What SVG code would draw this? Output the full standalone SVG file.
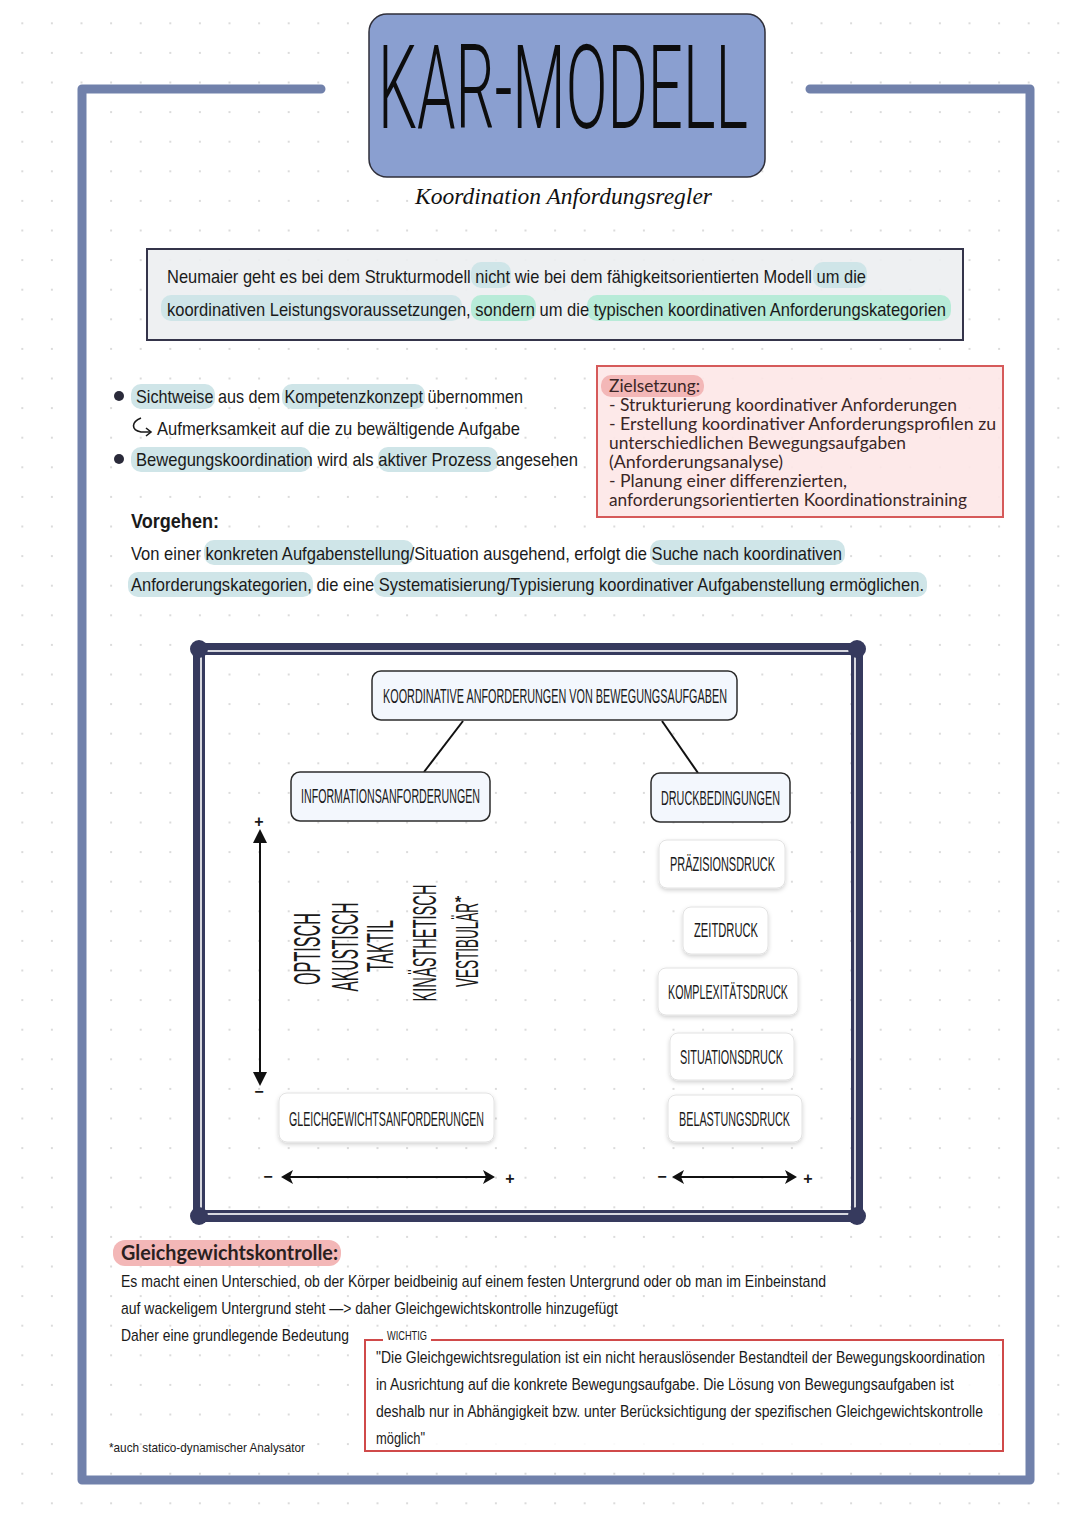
<svg xmlns="http://www.w3.org/2000/svg" width="1080" height="1525" viewBox="0 0 1080 1525">
<defs>
<pattern id="dots" patternUnits="userSpaceOnUse" x="7.5" y="8.5" width="29.6" height="29.6">
<circle cx="14.8" cy="14.8" r="1" fill="#cfcfcf"/>
</pattern>
<filter id="sh" x="-10%" y="-20%" width="120%" height="150%">
<feDropShadow dx="0" dy="2" stdDeviation="2" flood-color="#000" flood-opacity="0.18"/>
</filter>
<marker id="ah" viewBox="0 0 12 14" refX="10" refY="7" markerWidth="12" markerHeight="14" markerUnits="userSpaceOnUse" orient="auto-start-reverse">
<path d="M0,0 L12,7 L0,14 L3,7 z" fill="#111"/>
</marker>
<marker id="av" viewBox="0 0 14 14" refX="10" refY="7" markerWidth="14" markerHeight="14" markerUnits="userSpaceOnUse" orient="auto-start-reverse">
<path d="M0,0 L14,7 L0,14 z" fill="#111"/>
</marker>
</defs>
<style>
.hw{font-family:'Liberation Sans Narrow','Liberation Sans',sans-serif;fill:#1a1a1a;}
.cap{font-family:'Liberation Sans Narrow','Liberation Sans',sans-serif;fill:#1a1a1a;}
.zs{font-family:Lato,'Noto Sans',sans-serif;fill:#3a2626;font-size:16.5px;}
.hlb{fill:#cfe5e8;}
.hlg{fill:#b8ebd8;}
.hlp{fill:#f3b7b7;}
.node{fill:#f3f7fd;stroke:#2c2c2c;stroke-width:1.5;}
.wnode{fill:#ffffff;stroke:#e2e2e2;stroke-width:1;filter:url(#sh);}
.frame{fill:none;stroke:#7181ab;stroke-width:9;stroke-linecap:round;stroke-linejoin:round;}
</style>
<rect width="1080" height="1525" fill="#ffffff"/>
<rect width="1080" height="1525" fill="url(#dots)"/>

<g id="frame">
<path class="frame" d="M321,89 L82,89 L82,1480 L1030,1480 L1030,89 L810,89"/>
</g>

<g id="title">
<rect x="369" y="14" width="396" height="163" rx="18" fill="#8a9fd0" stroke="#2f2f3a" stroke-width="1.5"/>
<text x="378" y="128" font-family="Roboto,'Liberation Sans',sans-serif" font-weight="300" font-size="116" textLength="370" lengthAdjust="spacingAndGlyphs" fill="#0d0d0d">KAR-MODELL</text>
<text x="415" y="204" font-family="'Liberation Serif',serif" font-style="italic" font-size="24" textLength="297" lengthAdjust="spacingAndGlyphs" fill="#111">Koordination Anfordungsregler</text>
</g>

<g id="intro">
<rect x="147" y="249" width="816" height="91" fill="#eceef1" fill-opacity="0.9" stroke="#34344a" stroke-width="2"/>
<rect class="hlb" x="471" y="262" width="40" height="26" rx="10"/>
<rect class="hlb" x="813" y="262" width="54" height="26" rx="10"/>
<rect class="hlb" x="161" y="295" width="301" height="26" rx="10"/>
<rect class="hlg" x="471" y="295" width="65" height="26" rx="10"/>
<rect class="hlg" x="587" y="295" width="364" height="26" rx="10"/>
<text class="hw" x="167" y="283" font-size="19" textLength="699" lengthAdjust="spacingAndGlyphs">Neumaier geht es bei dem Strukturmodell nicht wie bei dem fähigkeitsorientierten Modell um die</text>
<text class="hw" x="167" y="316" font-size="19" textLength="779" lengthAdjust="spacingAndGlyphs">koordinativen Leistungsvoraussetzungen, sondern um die typischen koordinativen Anforderungskategorien</text>
</g>

<g id="bullets">
<rect class="hlb" x="131" y="384" width="84" height="25" rx="10"/>
<rect class="hlb" x="282" y="384" width="143" height="25" rx="10"/>
<rect class="hlb" x="131" y="447" width="180" height="25" rx="10"/>
<rect class="hlb" x="378" y="447" width="120" height="25" rx="10"/>
<circle cx="119" cy="396" r="5" fill="#2a2a3a"/>
<circle cx="119" cy="459" r="5" fill="#2a2a3a"/>
<text class="hw" x="136" y="403" font-size="19" textLength="387" lengthAdjust="spacingAndGlyphs">Sichtweise aus dem Kompetenzkonzept übernommen</text>
<path d="M141,418 C131,422 131,430 141,432 L150,432" fill="none" stroke="#1a1a1a" stroke-width="1.6"/>
<path d="M146,428 L151,432 L146,436" fill="none" stroke="#1a1a1a" stroke-width="1.6"/>
<text class="hw" x="157" y="435" font-size="19" textLength="363" lengthAdjust="spacingAndGlyphs">Aufmerksamkeit auf die zu bewältigende Aufgabe</text>
<text class="hw" x="136" y="466" font-size="19" textLength="442" lengthAdjust="spacingAndGlyphs">Bewegungskoordination wird als aktiver Prozess angesehen</text>
</g>

<g id="zielsetzung">
<rect x="597" y="366" width="406" height="151" fill="#fde7e7" fill-opacity="0.9" stroke="#d65a5a" stroke-width="2"/>
<rect class="hlp" x="601" y="375" width="103" height="22" rx="10"/>
<text class="zs" x="609" y="392" textLength="91" lengthAdjust="spacingAndGlyphs">Zielsetzung:</text>
<text class="zs" x="609" y="411" textLength="348" lengthAdjust="spacingAndGlyphs">- Strukturierung koordinativer Anforderungen</text>
<text class="zs" x="609" y="430" textLength="387" lengthAdjust="spacingAndGlyphs">- Erstellung koordinativer Anforderungsprofilen zu</text>
<text class="zs" x="609" y="449" textLength="297" lengthAdjust="spacingAndGlyphs">unterschiedlichen Bewegungsaufgaben</text>
<text class="zs" x="609" y="468" textLength="174" lengthAdjust="spacingAndGlyphs">(Anforderungsanalyse)</text>
<text class="zs" x="609" y="487" textLength="238" lengthAdjust="spacingAndGlyphs">- Planung einer differenzierten,</text>
<text class="zs" x="609" y="506" textLength="358" lengthAdjust="spacingAndGlyphs">anforderungsorientierten Koordinationstraining</text>
</g>

<g id="vorgehen">
<rect class="hlb" x="204" y="540" width="210" height="25" rx="10"/>
<rect class="hlb" x="650" y="540" width="195" height="25" rx="10"/>
<rect class="hlb" x="128" y="572" width="185" height="25" rx="10"/>
<rect class="hlb" x="374" y="572" width="553" height="25" rx="10"/>
<text class="hw" x="131" y="528" font-size="20" font-weight="bold" textLength="88" lengthAdjust="spacingAndGlyphs">Vorgehen:</text>
<text class="hw" x="131" y="560" font-size="19" textLength="711" lengthAdjust="spacingAndGlyphs">Von einer konkreten Aufgabenstellung/Situation ausgehend, erfolgt die Suche nach koordinativen</text>
<text class="hw" x="131" y="591" font-size="19" textLength="793" lengthAdjust="spacingAndGlyphs">Anforderungskategorien, die eine Systematisierung/Typisierung koordinativer Aufgabenstellung ermöglichen.</text>
</g>

<g id="diagram-frame">
<rect x="199" y="649" width="658" height="567" fill="none" stroke="#363a5e" stroke-width="12"/>
<rect x="201" y="651" width="654" height="563" fill="none" stroke="#ffffff" stroke-width="1.6"/>
<circle cx="199" cy="649" r="9" fill="#363a5e"/>
<circle cx="857" cy="649" r="9" fill="#363a5e"/>
<circle cx="199" cy="1216" r="9" fill="#363a5e"/>
<circle cx="857" cy="1216" r="9" fill="#363a5e"/>
</g>

<g id="connectors" stroke="#111" stroke-width="2" fill="none">
<line x1="463" y1="721" x2="424" y2="772"/>
<line x1="662" y1="721" x2="698" y2="773"/>
<line x1="260" y1="833" x2="260" y2="1082" marker-start="url(#av)" marker-end="url(#av)"/>
<line x1="283" y1="1177" x2="493" y2="1177" marker-start="url(#ah)" marker-end="url(#ah)"/>
<line x1="674" y1="1177" x2="795" y2="1177" marker-start="url(#ah)" marker-end="url(#ah)"/>
</g>

<g id="axis-labels">
<text class="cap" x="259" y="827" font-size="16" text-anchor="middle" font-weight="bold">+</text>
<text class="cap" x="259" y="1097" font-size="16" text-anchor="middle" font-weight="bold">−</text>
<text class="cap" x="268" y="1182" font-size="16" text-anchor="middle" font-weight="bold">−</text>
<text class="cap" x="510" y="1184" font-size="16" text-anchor="middle" font-weight="bold">+</text>
<text class="cap" x="662" y="1182" font-size="16" text-anchor="middle" font-weight="bold">−</text>
<text class="cap" x="808" y="1184" font-size="16" text-anchor="middle" font-weight="bold">+</text>
</g>

<g id="node-root">
<rect class="node" x="372" y="671" width="365" height="49" rx="9"/>
<text class="cap" x="383" y="703" font-size="21" textLength="344" lengthAdjust="spacingAndGlyphs">KOORDINATIVE ANFORDERUNGEN VON BEWEGUNGSAUFGABEN</text>
</g>
<g id="node-information">
<rect class="node" x="291" y="772" width="199" height="49" rx="9"/>
<text class="cap" x="301" y="803" font-size="21" textLength="179" lengthAdjust="spacingAndGlyphs">INFORMATIONSANFORDERUNGEN</text>
</g>
<g id="node-druck">
<rect class="node" x="651" y="773" width="139" height="49" rx="9"/>
<text class="cap" x="661" y="805" font-size="21" textLength="119" lengthAdjust="spacingAndGlyphs">DRUCKBEDINGUNGEN</text>
</g>

<g id="analysatoren">
<text class="cap" transform="translate(320,949) rotate(-90)" font-size="36" text-anchor="middle" textLength="72" lengthAdjust="spacingAndGlyphs">OPTISCH</text>
<text class="cap" transform="translate(358,947) rotate(-90)" font-size="36" text-anchor="middle" textLength="89" lengthAdjust="spacingAndGlyphs">AKUSTISCH</text>
<text class="cap" transform="translate(393,946) rotate(-90)" font-size="36" text-anchor="middle" textLength="52" lengthAdjust="spacingAndGlyphs">TAKTIL</text>
<text class="cap" transform="translate(436,943) rotate(-90)" font-size="33" text-anchor="middle" textLength="117" lengthAdjust="spacingAndGlyphs">KINÄSTHETISCH</text>
<text class="cap" transform="translate(478,945) rotate(-90)" font-size="31" text-anchor="middle" textLength="84" lengthAdjust="spacingAndGlyphs">VESTIBULÄR</text>
<text class="cap" x="455" y="908" font-size="16" font-weight="bold">*</text>
</g>

<g id="node-gleichgewicht">
<rect class="wnode" x="279" y="1093" width="215" height="49" rx="8"/>
<text class="cap" x="289" y="1126" font-size="21" textLength="195" lengthAdjust="spacingAndGlyphs">GLEICHGEWICHTSANFORDERUNGEN</text>
</g>
<g id="node-praezision">
<rect class="wnode" x="659" y="840" width="126" height="48" rx="8"/>
<text class="cap" x="670" y="871" font-size="21" textLength="105" lengthAdjust="spacingAndGlyphs">PRÄZISIONSDRUCK</text>
</g>
<g id="node-zeit">
<rect class="wnode" x="683" y="907" width="85" height="47" rx="8"/>
<text class="cap" x="694" y="937" font-size="21" textLength="64" lengthAdjust="spacingAndGlyphs">ZEITDRUCK</text>
</g>
<g id="node-komplex">
<rect class="wnode" x="658" y="968" width="140" height="47" rx="8"/>
<text class="cap" x="668" y="999" font-size="21" textLength="120" lengthAdjust="spacingAndGlyphs">KOMPLEXITÄTSDRUCK</text>
</g>
<g id="node-situation">
<rect class="wnode" x="670" y="1033" width="124" height="47" rx="8"/>
<text class="cap" x="680" y="1064" font-size="21" textLength="103" lengthAdjust="spacingAndGlyphs">SITUATIONSDRUCK</text>
</g>
<g id="node-belastung">
<rect class="wnode" x="668" y="1095" width="134" height="47" rx="8"/>
<text class="cap" x="679" y="1126" font-size="21" textLength="111" lengthAdjust="spacingAndGlyphs">BELASTUNGSDRUCK</text>
</g>

<g id="gleichgewichtskontrolle">
<rect class="hlp" x="113" y="1240" width="228" height="26" rx="12"/>
<text x="121" y="1260" font-family="Lato,'Noto Sans',sans-serif" font-weight="bold" font-size="20" fill="#2a1f1f" textLength="217" lengthAdjust="spacingAndGlyphs">Gleichgewichtskontrolle:</text>
<text class="hw" x="121" y="1287" font-size="17" textLength="705" lengthAdjust="spacingAndGlyphs">Es macht einen Unterschied, ob der Körper beidbeinig auf einem festen Untergrund oder ob man im Einbeinstand</text>
<text class="hw" x="121" y="1314" font-size="17" textLength="497" lengthAdjust="spacingAndGlyphs">auf wackeligem Untergrund steht —&gt; daher Gleichgewichtskontrolle hinzugefügt</text>
<text class="hw" x="121" y="1341" font-size="17" textLength="228" lengthAdjust="spacingAndGlyphs">Daher eine grundlegende Bedeutung</text>
<text class="hw" x="109" y="1452" font-size="13" textLength="196" lengthAdjust="spacingAndGlyphs">*auch statico-dynamischer Analysator</text>
</g>

<g id="wichtig">
<rect x="365" y="1340" width="638" height="111" fill="#ffffff" fill-opacity="0.85" stroke="none"/>
<path d="M383,1340 L365,1340 L365,1451 L1003,1451 L1003,1340 L431,1340" fill="none" stroke="#d04a4a" stroke-width="2"/>
<text class="cap" x="387" y="1340" font-size="12" textLength="40" lengthAdjust="spacingAndGlyphs">WICHTIG</text>
<text class="hw" x="376" y="1363" font-size="16" textLength="609" lengthAdjust="spacingAndGlyphs">"Die Gleichgewichtsregulation ist ein nicht herauslösender Bestandteil der Bewegungskoordination</text>
<text class="hw" x="376" y="1390" font-size="16" textLength="578" lengthAdjust="spacingAndGlyphs">in Ausrichtung auf die konkrete Bewegungsaufgabe. Die Lösung von Bewegungsaufgaben ist</text>
<text class="hw" x="376" y="1417" font-size="16" textLength="607" lengthAdjust="spacingAndGlyphs">deshalb nur in Abhängigkeit bzw. unter Berücksichtigung der spezifischen Gleichgewichtskontrolle</text>
<text class="hw" x="376" y="1444" font-size="16" textLength="49" lengthAdjust="spacingAndGlyphs">möglich"</text>
</g>
</svg>
